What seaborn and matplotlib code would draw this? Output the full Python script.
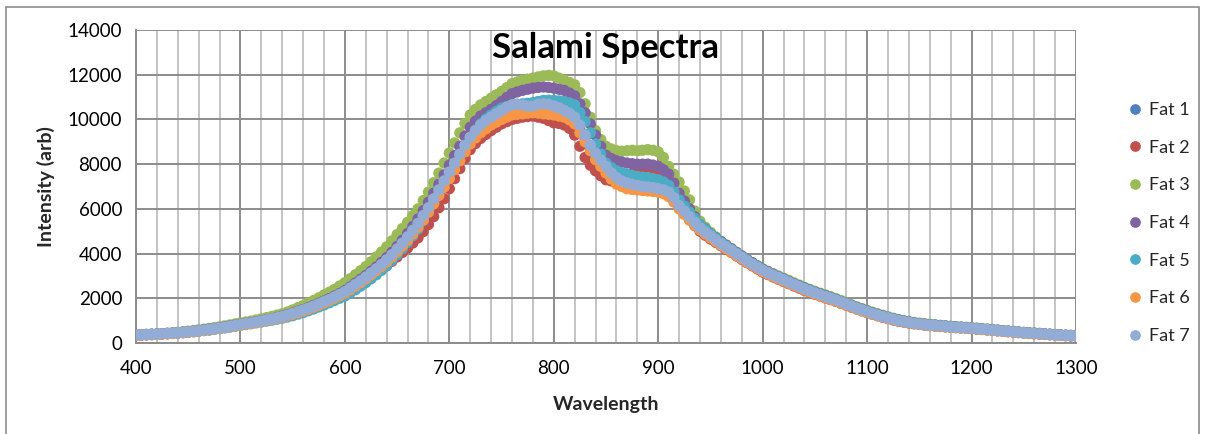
import numpy as np
import pandas as pd
import matplotlib
matplotlib.use("Agg")
import matplotlib.pyplot as plt
import seaborn as sns
from matplotlib.patches import Rectangle

wavelength = list(range(400, 1301, 5))

fat1 = [350, 360, 370, 380, 390, 405, 420, 435, 450, 470, 490, 515, 540, 570, 600, 630, 660, 700, 740, 780,
        820, 855, 890, 930, 970, 1015, 1060, 1110, 1160, 1230, 1300, 1370, 1450, 1530, 1620, 1710, 1810, 1910, 2020, 2130,
        2250, 2400, 2560, 2720, 2880, 3060, 3240, 3440, 3640, 3870, 4100, 4360, 4620, 4920, 5220, 5560, 5900, 6290, 6680, 7080,
        7480, 7880, 8280, 8650, 9000, 9300, 9550, 9750, 9900, 10050, 10200, 10330, 10450, 10480, 10500, 10480, 10450, 10480, 10500, 10460,
        10400, 10330, 10250, 10100, 9950, 9550, 9150, 8750, 8350, 8050, 7750, 7500, 7250, 7150, 7050, 7000, 6950, 6920, 6900, 6860,
        6820, 6750, 6650, 6380, 6080, 5830, 5580, 5340, 5100, 4920, 4750, 4570, 4400, 4250, 4100, 3940, 3790, 3640, 3490, 3350,
        3210, 3100, 3000, 2900, 2800, 2690, 2590, 2490, 2390, 2300, 2210, 2130, 2050, 1970, 1890, 1800, 1720, 1630, 1540, 1460,
        1380, 1300, 1230, 1170, 1110, 1050, 990, 950, 910, 870, 840, 810, 790, 770, 750, 730, 710, 695, 680, 665,
        650, 630, 610, 590, 570, 550, 530, 510, 490, 470, 450, 435, 420, 405, 390, 375, 360, 345, 330, 320,
        310]
fat2 = [350, 360, 370, 380, 390, 405, 420, 435, 450, 470, 490, 515, 540, 570, 600, 630, 660, 700, 740, 780,
        820, 855, 890, 935, 980, 1025, 1070, 1115, 1160, 1220, 1290, 1360, 1440, 1520, 1600, 1690, 1780, 1880, 1980, 2090,
        2200, 2340, 2480, 2630, 2780, 2940, 3100, 3270, 3450, 3650, 3850, 4050, 4250, 4470, 4700, 4980, 5300, 5650, 6050, 6450,
        6900, 7350, 7800, 8250, 8650, 8920, 9150, 9330, 9500, 9650, 9800, 9900, 10000, 10050, 10100, 10130, 10150, 10100, 10050, 9950,
        9850, 9820, 9750, 9600, 9300, 8800, 8300, 7950, 7700, 7480, 7300, 7250, 7250, 7380, 7500, 7580, 7650, 7680, 7650, 7600,
        7550, 7350, 7100, 6600, 6100, 5800, 5500, 5250, 5000, 4820, 4650, 4500, 4350, 4200, 4050, 3890, 3740, 3590, 3450, 3310,
        3170, 3060, 2950, 2850, 2750, 2650, 2550, 2450, 2350, 2260, 2180, 2100, 2020, 1940, 1860, 1770, 1690, 1600, 1520, 1440,
        1360, 1290, 1220, 1150, 1090, 1030, 980, 940, 900, 860, 830, 800, 780, 760, 740, 725, 710, 695, 680, 665,
        650, 630, 610, 590, 570, 550, 530, 510, 490, 470, 450, 435, 420, 405, 390, 375, 360, 345, 330, 320,
        310]
fat3 = [370, 380, 390, 400, 410, 425, 440, 460, 480, 505, 530, 560, 590, 620, 650, 685, 720, 765, 810, 855,
        900, 940, 980, 1030, 1080, 1135, 1190, 1250, 1310, 1390, 1480, 1580, 1680, 1790, 1900, 2020, 2150, 2270, 2400, 2550,
        2700, 2870, 3050, 3230, 3420, 3630, 3850, 4070, 4300, 4570, 4850, 5120, 5400, 5700, 6000, 6370, 6750, 7170, 7600, 8050,
        8500, 8950, 9400, 9820, 10200, 10450, 10650, 10800, 10950, 11100, 11250, 11420, 11600, 11680, 11750, 11800, 11850, 11900, 11950, 11970,
        11950, 11850, 11750, 11650, 11550, 11200, 10700, 10100, 9500, 9100, 8800, 8680, 8600, 8580, 8600, 8620, 8600, 8620, 8650, 8620,
        8550, 8300, 7900, 7550, 7200, 6800, 6400, 5900, 5450, 5180, 4950, 4750, 4550, 4390, 4230, 4060, 3900, 3750, 3600, 3460,
        3320, 3210, 3100, 3000, 2900, 2800, 2690, 2590, 2490, 2400, 2310, 2230, 2150, 2070, 1990, 1900, 1800, 1710, 1620, 1540,
        1460, 1380, 1310, 1240, 1170, 1110, 1050, 1000, 960, 920, 890, 860, 840, 815, 790, 770, 750, 735, 720, 705,
        690, 670, 650, 630, 610, 585, 560, 540, 520, 500, 480, 465, 450, 430, 410, 395, 380, 365, 350, 340,
        330]
fat4 = [360, 370, 380, 390, 400, 415, 430, 445, 460, 480, 500, 530, 560, 590, 620, 650, 680, 720, 760, 800,
        840, 875, 910, 955, 1000, 1045, 1090, 1145, 1200, 1270, 1340, 1420, 1500, 1590, 1680, 1780, 1880, 1990, 2100, 2220,
        2350, 2510, 2680, 2850, 3020, 3210, 3400, 3610, 3820, 4060, 4320, 4600, 4900, 5220, 5550, 5920, 6300, 6700, 7100, 7520,
        7950, 8380, 8800, 9250, 9650, 9920, 10150, 10300, 10450, 10620, 10800, 10980, 11150, 11230, 11300, 11350, 11400, 11430, 11450, 11430,
        11400, 11350, 11300, 11180, 11050, 10700, 10300, 9800, 9300, 8800, 8400, 8250, 8150, 8100, 8050, 8020, 8000, 8000, 8000, 7960,
        7900, 7750, 7550, 7150, 6700, 6350, 6000, 5650, 5300, 5100, 4900, 4710, 4530, 4370, 4210, 4050, 3890, 3740, 3590, 3440,
        3300, 3190, 3080, 2970, 2870, 2760, 2660, 2560, 2460, 2370, 2280, 2200, 2120, 2040, 1950, 1860, 1770, 1680, 1590, 1510,
        1430, 1350, 1280, 1210, 1150, 1090, 1030, 980, 940, 900, 870, 845, 820, 800, 780, 760, 740, 720, 700, 685,
        670, 650, 630, 610, 590, 570, 550, 530, 510, 490, 470, 455, 440, 425, 410, 395, 380, 365, 350, 340,
        330]
fat5 = [350, 360, 370, 380, 390, 405, 420, 435, 450, 465, 480, 505, 530, 555, 580, 610, 640, 675, 710, 750,
        790, 825, 860, 900, 940, 980, 1020, 1065, 1110, 1160, 1220, 1290, 1360, 1440, 1520, 1610, 1700, 1800, 1900, 2000,
        2100, 2240, 2380, 2540, 2700, 2870, 3050, 3250, 3450, 3700, 3950, 4220, 4500, 4800, 5100, 5470, 5850, 6270, 6700, 7120,
        7550, 7980, 8400, 8820, 9200, 9520, 9800, 10020, 10200, 10360, 10500, 10580, 10650, 10680, 10700, 10720, 10750, 10800, 10850, 10860,
        10850, 10830, 10800, 10740, 10650, 10300, 9900, 9400, 8900, 8450, 8050, 7850, 7700, 7620, 7550, 7500, 7450, 7420, 7400, 7350,
        7300, 7200, 7050, 6750, 6400, 6120, 5850, 5570, 5300, 5080, 4880, 4690, 4500, 4340, 4180, 4020, 3860, 3710, 3560, 3420,
        3280, 3160, 3050, 2950, 2850, 2740, 2640, 2540, 2440, 2350, 2260, 2180, 2100, 2020, 1940, 1850, 1760, 1670, 1580, 1500,
        1420, 1340, 1270, 1200, 1140, 1080, 1020, 970, 930, 890, 860, 830, 810, 790, 770, 750, 730, 715, 700, 680,
        660, 640, 620, 600, 580, 560, 540, 520, 500, 480, 460, 445, 430, 415, 400, 385, 370, 355, 340, 330,
        320]
fat6 = [340, 350, 360, 370, 380, 395, 410, 425, 440, 460, 480, 505, 530, 560, 590, 620, 650, 690, 730, 765,
        800, 835, 870, 915, 960, 1005, 1050, 1100, 1150, 1210, 1280, 1350, 1430, 1510, 1600, 1690, 1790, 1890, 2000, 2110,
        2230, 2380, 2540, 2700, 2870, 3050, 3230, 3420, 3620, 3840, 4080, 4330, 4600, 4880, 5180, 5500, 5850, 6220, 6600, 6970,
        7350, 7750, 8150, 8550, 8900, 9170, 9400, 9580, 9750, 9880, 10000, 10100, 10200, 10230, 10250, 10280, 10300, 10280, 10250, 10230,
        10200, 10150, 10100, 9980, 9800, 9400, 9000, 8600, 8200, 7900, 7600, 7330, 7100, 7000, 6900, 6870, 6850, 6820, 6800, 6780,
        6750, 6680, 6550, 6300, 6000, 5750, 5500, 5270, 5050, 4870, 4700, 4530, 4370, 4220, 4070, 3910, 3760, 3610, 3470, 3330,
        3190, 3080, 2970, 2870, 2770, 2670, 2570, 2470, 2370, 2280, 2190, 2110, 2030, 1950, 1870, 1780, 1700, 1610, 1520, 1440,
        1360, 1290, 1220, 1160, 1100, 1040, 990, 940, 900, 860, 830, 800, 780, 760, 740, 720, 700, 685, 670, 655,
        640, 620, 600, 580, 560, 540, 520, 500, 480, 460, 440, 425, 410, 395, 380, 365, 350, 340, 330, 320,
        310]
fat7 = [360, 370, 380, 390, 400, 415, 430, 445, 460, 480, 500, 525, 550, 580, 610, 640, 670, 710, 750, 790,
        830, 865, 900, 945, 990, 1035, 1080, 1130, 1180, 1250, 1320, 1400, 1480, 1565, 1650, 1750, 1850, 1950, 2060, 2180,
        2300, 2460, 2620, 2780, 2950, 3130, 3320, 3510, 3720, 3950, 4200, 4470, 4750, 5040, 5350, 5700, 6050, 6450, 6850, 7250,
        7650, 8050, 8450, 8850, 9200, 9500, 9750, 9950, 10100, 10250, 10400, 10550, 10650, 10680, 10650, 10600, 10600, 10680, 10700, 10680,
        10600, 10520, 10400, 10280, 10100, 9750, 9300, 8850, 8500, 8180, 7900, 7620, 7400, 7250, 7160, 7100, 7050, 7000, 6980, 6950,
        6900, 6850, 6750, 6500, 6150, 5900, 5650, 5400, 5150, 4960, 4800, 4620, 4450, 4300, 4150, 3990, 3830, 3680, 3530, 3390,
        3250, 3140, 3030, 2930, 2830, 2720, 2620, 2520, 2420, 2330, 2240, 2160, 2080, 2000, 1920, 1830, 1740, 1650, 1560, 1480,
        1400, 1320, 1250, 1180, 1120, 1060, 1000, 960, 920, 880, 850, 820, 800, 780, 760, 740, 720, 700, 690, 675,
        660, 640, 620, 600, 580, 560, 540, 520, 500, 480, 460, 445, 430, 415, 400, 385, 370, 355, 340, 330,
        320]

series_names = ["Fat 1", "Fat 2", "Fat 3", "Fat 4", "Fat 5", "Fat 6", "Fat 7"]
series_values = [fat1, fat2, fat3, fat4, fat5, fat6, fat7]
colors = ["#4F81BD", "#C0504D", "#9BBB59", "#8064A2", "#4BACC6", "#F79646", "#93ACD6"]

frames = []
for name, vals in zip(series_names, series_values):
    n = min(len(vals), len(wavelength))
    frames.append(pd.DataFrame({"Wavelength": wavelength[:n], "Intensity": vals[:n], "Series": name}))
df = pd.concat(frames, ignore_index=True)

sns.set_style("white")
plt.rcParams["font.family"] = ["Lato", "DejaVu Sans"]

W, H = 1205, 434
fig = plt.figure(figsize=(W / 100, H / 100), dpi=100)
ax = fig.add_axes([136 / W, 1 - 343 / H, (1076 - 136) / W, (343 - 30) / H])

grid_major = "#8C8C8C"
grid_minor = "#C4C4C4"

sns.scatterplot(data=df, x="Wavelength", y="Intensity", hue="Series",
                hue_order=series_names, palette=colors, s=66, linewidth=0,
                alpha=1.0, ax=ax, zorder=3)

ax.set_xlim(400, 1300)
ax.set_ylim(0, 14000)
ax.set_xticks(range(400, 1301, 100))
ax.set_xticks(range(400, 1301, 20), minor=True)
ax.set_yticks(range(0, 14001, 2000))

ax.grid(which="minor", axis="x", color=grid_minor, lw=1.4, zorder=0)
ax.grid(which="major", axis="both", color=grid_major, lw=1.4, zorder=0)
ax.set_axisbelow(True)

for s in ["top", "right"]:
    ax.spines[s].set_visible(False)
for s in ["left", "bottom"]:
    ax.spines[s].set_color(grid_major)
    ax.spines[s].set_linewidth(1.4)

ax.tick_params(axis="both", which="major", direction="out", length=6, width=1.4,
               color=grid_major, labelsize=13.5, labelcolor="#000000", pad=4)
ax.tick_params(axis="x", which="minor", length=0)
ax.tick_params(axis="x", which="major", pad=6)

ax.set_xlabel("Wavelength", fontsize=14, fontweight="bold", labelpad=14)
ax.set_ylabel("Intensity (arb)", fontsize=14, fontweight="bold", labelpad=9)

ax.text(0.5, 0.944, "Salami Spectra", transform=ax.transAxes, ha="center",
        va="center", fontsize=25, fontweight="bold", color="#000000", zorder=5)

handles, labels = ax.get_legend_handles_labels()
leg = ax.legend(handles, labels, loc="center left",
                bbox_to_anchor=(1126 / W, 1 - 223 / H), bbox_transform=fig.transFigure,
                frameon=False, fontsize=13, labelspacing=1.2, handlelength=1.0,
                handletextpad=0.25, markerscale=0.95, borderpad=0, borderaxespad=0)

fig.patches.append(Rectangle((6 / W, -0.05), (1199 - 6) / W, 1.05 - 7 / H,
                             transform=fig.transFigure, fill=False,
                             edgecolor="#8C8C8C", lw=1.2))

fig.savefig("out.png", dpi=100)
